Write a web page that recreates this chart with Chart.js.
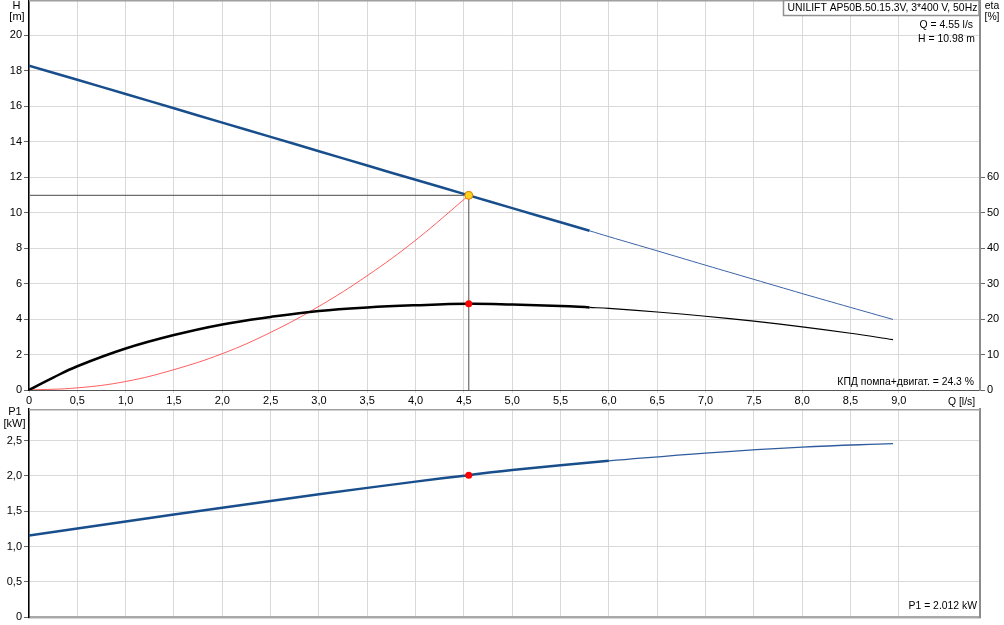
<!DOCTYPE html>
<html>
<head>
<meta charset="utf-8">
<script src="https://cdn.jsdelivr.net/npm/chart.js@4.4.1/dist/chart.umd.min.js"></script>
<style>
  html, body { margin: 0; padding: 0; background: #fff; }
  #wrap { position: relative; width: 1004px; height: 625px; overflow: hidden; }
  #top-chart { position: absolute; left: 0; top: 0; }
  #bottom-chart { position: absolute; left: 0; top: 405px; }
</style>
</head>
<body>
<div id="wrap">
  <canvas id="top-chart" width="1004" height="412"></canvas>
  <canvas id="bottom-chart" width="1004" height="220"></canvas>
</div>
<script>
// pump curve H(Q)
const qHead = [0, 0.5, 1, 1.5, 2, 2.5, 3, 3.5, 4, 4.55, 5, 5.5, 5.8, 6, 6.5, 7, 7.5, 8, 8.5, 8.94];
const headVals = [18.3, 17.5, 16.7, 15.89, 15.08, 14.28, 13.47, 12.66, 11.86, 10.98, 10.26, 9.46, 8.98, 8.65, 7.85, 7.04, 6.24, 5.44, 4.66, 3.98];

// efficiency pump+motor, %
const qEta = [0, 0.25, 0.5, 1, 1.5, 2, 2.5, 3, 3.5, 4, 4.55, 5, 5.5, 5.8, 6, 6.5, 7, 7.5, 8, 8.5, 8.94];
const etaVals = [0, 3.5, 6.7, 11.7, 15.5, 18.5, 20.6, 22.3, 23.3, 23.9, 24.3, 24.1, 23.7, 23.3, 23.0, 22.0, 20.8, 19.4, 17.8, 16.0, 14.2];

// system curve
const qSys = [0, 0.5, 1, 1.5, 2, 2.5, 3, 3.5, 4, 4.55];
const sysVals = [0, 0.12, 0.48, 1.15, 2.05, 3.25, 4.72, 6.45, 8.45, 10.98];

// power input P1, kW
const qP1 = [0, 1, 2, 3, 4, 4.55, 5, 6, 7, 8, 8.94];
const p1Vals = [1.155, 1.355, 1.55, 1.74, 1.92, 2.012, 2.085, 2.215, 2.325, 2.41, 2.46];

// duty point
const dutyQ = 4.55;
const dutyH = 10.98;
const dutyEta = 24.3;
const dutyP1 = 2.012;

// tick labels
const xTickLabels = ["0", "0,5", "1,0", "1,5", "2,0", "2,5", "3,0", "3,5", "4,0", "4,5", "5,0", "5,5", "6,0", "6,5", "7,0", "7,5", "8,0", "8,5", "9,0", ""];
const hTickLabels = ["0", "2", "4", "6", "8", "10", "12", "14", "16", "18", "20"];
const etaTickLabels = ["0", "10", "20", "30", "40", "50", "60"];
const p1TickLabels = ["0", "0,5", "1,0", "1,5", "2,0", "2,5"];

const thickEnd = 5.8;
const thickEndP1 = 6.0;

Chart.defaults.font.family = '"Liberation Sans", Arial, sans-serif';
Chart.defaults.font.size = 11;
Chart.defaults.color = "#000";

const NOTE_FONT = '10.4px "Liberation Sans", Arial, sans-serif';
const GRID = "#d9d9d9";

function pts(xs, ys) {
  return xs.map((x, i) => ({ x: x, y: ys[i] }));
}
function upTo(xs, ys, lim) {
  return pts(xs, ys).filter(p => p.x <= lim + 1e-9);
}
function from(xs, ys, lim) {
  return pts(xs, ys).filter(p => p.x >= lim - 1e-9);
}

// fixed axis size, no extra padding around the plot
function fixSize(w, h) {
  return s => {
    if (w !== null) s.width = w;
    if (h !== null) s.height = h;
    s.paddingTop = 0;
    s.paddingBottom = 0;
    s.paddingLeft = 0;
    s.paddingRight = 0;
  };
}

// draws frame lines and annotation texts
const notesPlugin = {
  id: "notes",
  afterDraw(chart, args, opts) {
    const ctx = chart.ctx;
    const a = chart.chartArea;
    ctx.save();
    if (opts.topLine) {
      ctx.strokeStyle = "#a0a0a0";
      ctx.lineWidth = 1.5;
      ctx.beginPath();
      ctx.moveTo(a.left, a.top + 0.75);
      ctx.lineTo(a.right, a.top + 0.75);
      ctx.stroke();
    }
    if (opts.box) {
      const b = opts.box;
      ctx.fillStyle = "#fff";
      ctx.fillRect(b.x, b.y, b.w, b.h);
      ctx.strokeStyle = "#909090";
      ctx.lineWidth = 1.5;
      ctx.strokeRect(b.x, b.y, b.w, b.h);
      ctx.fillStyle = "#000";
      ctx.font = NOTE_FONT;
      ctx.textAlign = "left";
      ctx.textBaseline = "middle";
      ctx.fillText(b.text, b.x + 4, b.y + b.h / 2 + 0.5);
    }
    (opts.texts || []).forEach(t => {
      ctx.fillStyle = "#000";
      ctx.font = t.big ? '11px "Liberation Sans", Arial, sans-serif' : NOTE_FONT;
      ctx.textAlign = t.align || "left";
      ctx.textBaseline = "middle";
      ctx.fillText(t.text, t.x, t.y);
    });
    ctx.restore();
  }
};

function xLabel(v) {
  const i = Math.round(v / 0.5);
  return xTickLabels[i] !== undefined ? xTickLabels[i] : "";
}

function curve(label, data, axis, color, width) {
  return {
    label: label,
    data: data,
    yAxisID: axis,
    borderColor: color,
    borderWidth: width,
    pointRadius: 0,
    tension: 0.4
  };
}

const topChart = new Chart(document.getElementById("top-chart").getContext("2d"), {
  type: "line",
  data: {
    datasets: [
      {
        label: "duty H",
        data: [{ x: dutyQ, y: dutyH }],
        yAxisID: "y",
        showLine: false,
        pointRadius: 4,
        pointBackgroundColor: "#ffd21f",
        pointBorderColor: "#e07a00",
        pointBorderWidth: 1
      },
      {
        label: "duty eta",
        data: [{ x: dutyQ, y: dutyEta }],
        yAxisID: "yEta",
        showLine: false,
        pointRadius: 3.5,
        pointBackgroundColor: "#ff0000",
        pointBorderColor: "#ff0000",
        pointBorderWidth: 0
      },
      curve("H", upTo(qHead, headVals, thickEnd), "y", "#184e8c", 2.5),
      curve("H thin", from(qHead, headVals, thickEnd), "y", "#3a62a6", 1),
      curve("eta", upTo(qEta, etaVals, thickEnd), "yEta", "#000", 2.5),
      curve("eta thin", from(qEta, etaVals, thickEnd), "yEta", "#000", 1.2),
      curve("system", pts(qSys, sysVals), "y", "rgba(255,40,40,0.75)", 1),
      {
        label: "duty lines",
        data: [{ x: 0, y: dutyH }, { x: dutyQ, y: dutyH }, { x: dutyQ, y: 0 }],
        yAxisID: "y",
        borderColor: "#6e6e6e",
        borderWidth: 1.2,
        pointRadius: 0,
        tension: 0
      }
    ]
  },
  options: {
    responsive: false,
    animation: false,
    layout: { autoPadding: false, padding: 0 },
    plugins: {
      legend: { display: false },
      tooltip: { enabled: false },
      notes: {
        topLine: true,
        box: { x: 783.5, y: 0.5, w: 195.5, h: 15, text: "UNILIFT AP50B.50.15.3V, 3*400 V, 50Hz" },
        texts: [
          { text: "H", x: 16.5, y: 6, align: "center", big: true },
          { text: "[m]", x: 17, y: 17, align: "center", big: true },
          { text: "eta", x: 992, y: 6, align: "center" },
          { text: "[%]", x: 992, y: 17, align: "center" },
          { text: "Q = 4.55 l/s", x: 973, y: 25, align: "right" },
          { text: "H = 10.98 m", x: 975, y: 39, align: "right" },
          { text: "КПД помпа+двигат. = 24.3 %", x: 974, y: 382.5, align: "right" },
          { text: "Q [l/s]", x: 948, y: 402, align: "left" }
        ]
      }
    },
    scales: {
      x: {
        type: "linear",
        min: 0,
        max: 9.84,
        afterBuildTicks: s => { s.ticks = s.ticks.filter(t => t.value <= 9.5 + 1e-6); },
        afterFit: fixSize(null, 22),
        ticks: { stepSize: 0.5, autoSkip: false, maxRotation: 0, padding: 1, callback: v => xLabel(v) },
        grid: { color: GRID, tickLength: 3, tickColor: GRID },
        border: { color: "#555", width: 1 }
      },
      y: {
        type: "linear",
        position: "left",
        min: 0,
        max: 22,
        afterBuildTicks: s => { s.ticks = s.ticks.filter(t => t.value <= 20 + 1e-6); },
        afterFit: fixSize(29, null),
        ticks: { stepSize: 2, padding: 2, callback: v => hTickLabels[Math.round(v / 2)] },
        grid: { color: GRID, tickLength: 5, tickColor: "#666" },
        border: { color: "#000", width: 1.5 }
      },
      yEta: {
        type: "linear",
        position: "right",
        min: 0,
        max: 110,
        afterBuildTicks: s => { s.ticks = s.ticks.filter(t => t.value <= 60 + 1e-6); },
        afterFit: fixSize(24, null),
        ticks: { stepSize: 10, padding: 2, callback: v => etaTickLabels[Math.round(v / 10)] },
        grid: { drawOnChartArea: false, tickLength: 5, tickColor: "#666" },
        border: { color: "#8c8c8c", width: 2 }
      }
    }
  },
  plugins: [notesPlugin]
});

const bottomChart = new Chart(document.getElementById("bottom-chart").getContext("2d"), {
  type: "line",
  data: {
    datasets: [
      {
        label: "duty P1",
        data: [{ x: dutyQ, y: dutyP1 }],
        yAxisID: "y",
        showLine: false,
        pointRadius: 3.5,
        pointBackgroundColor: "#ff0000",
        pointBorderColor: "#ff0000",
        pointBorderWidth: 0
      },
      curve("P1", upTo(qP1, p1Vals, thickEndP1), "y", "#184e8c", 2.5),
      curve("P1 thin", from(qP1, p1Vals, thickEndP1), "y", "#2f5c9e", 1.3)
    ]
  },
  options: {
    responsive: false,
    animation: false,
    layout: { autoPadding: false, padding: { top: 4, left: 0, right: 0, bottom: 0 } },
    plugins: {
      legend: { display: false },
      tooltip: { enabled: false },
      notes: {
        topLine: true,
        texts: [
          { text: "P1", x: 15, y: 7, align: "center", big: true },
          { text: "[kW]", x: 14.5, y: 19, align: "center", big: true },
          { text: "P1 = 2.012 kW", x: 977, y: 201.5, align: "right" }
        ]
      }
    },
    scales: {
      x: {
        type: "linear",
        min: 0,
        max: 9.84,
        afterBuildTicks: s => { s.ticks = s.ticks.filter(t => t.value <= 9.5 + 1e-6); },
        afterFit: fixSize(null, 8),
        ticks: { stepSize: 0.5, display: false },
        grid: { color: GRID, drawTicks: false },
        border: { color: "#a8a8a8", width: 2.5 }
      },
      y: {
        type: "linear",
        position: "left",
        min: 0,
        max: 2.95,
        afterBuildTicks: s => { s.ticks = s.ticks.filter(t => t.value <= 2.5 + 1e-6); },
        afterFit: fixSize(29, null),
        ticks: { stepSize: 0.5, padding: 2, callback: v => p1TickLabels[Math.round(v / 0.5)] },
        grid: { color: GRID, tickLength: 5, tickColor: "#666" },
        border: { color: "#000", width: 1.5 }
      },
      yR: {
        type: "linear",
        position: "right",
        min: 0,
        max: 1,
        afterFit: fixSize(24, null),
        ticks: { display: false },
        grid: { drawOnChartArea: false, drawTicks: false },
        border: { color: "#8c8c8c", width: 2 }
      }
    }
  },
  plugins: [notesPlugin]
});
</script>
</body>
</html>
